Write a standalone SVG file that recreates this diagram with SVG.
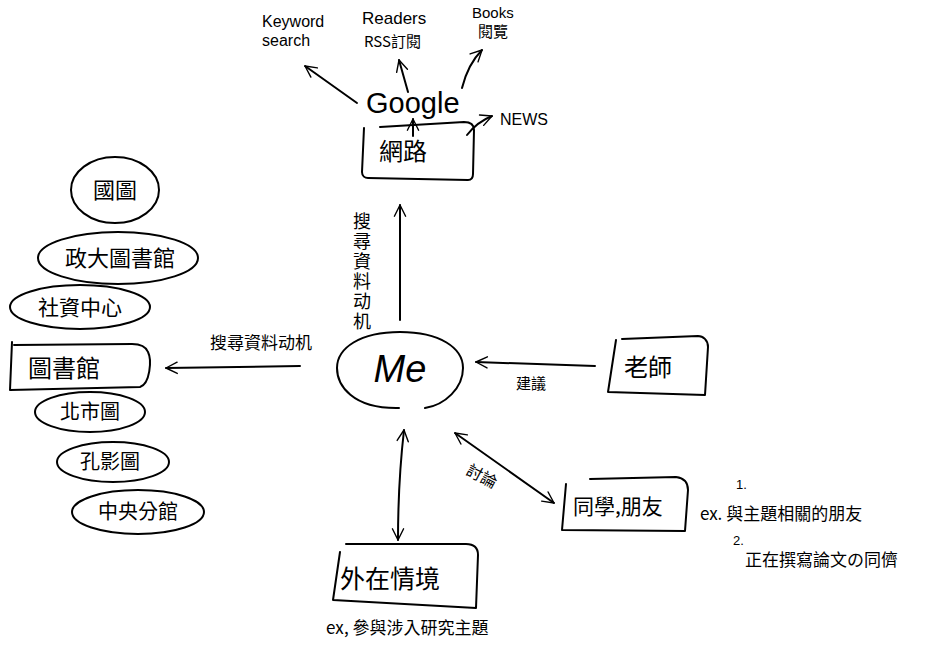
<svg xmlns="http://www.w3.org/2000/svg" width="925" height="645" viewBox="0 0 925 645">
<defs>
<style>
.ln{fill:none;stroke:#000;stroke-width:2;stroke-linecap:round;stroke-linejoin:round}
.t{font-family:"Noto Sans CJK TC","Liberation Sans",sans-serif;fill:#000}
.lat{font-family:"Liberation Sans","Noto Sans CJK TC",sans-serif;fill:#000}
.vt{writing-mode:vertical-rl;letter-spacing:2px}
</style>
<marker id="ah" viewBox="0 0 20 20" refX="18" refY="10" markerWidth="14" markerHeight="14" markerUnits="userSpaceOnUse" orient="auto-start-reverse">
<path d="M2,2 L18,10 L2,18" fill="none" stroke="#000" stroke-width="2" stroke-linecap="round" stroke-linejoin="round"/>
</marker>
</defs>
<rect width="925" height="645" fill="#fff"/>

<g id="connectors">
<path class="ln" d="M357,103 L305,66" marker-end="url(#ah)"/>
<path class="ln" d="M408,92 L399,60" marker-end="url(#ah)"/>
<path class="ln" d="M462,88 C466,72 472,60 482,50" marker-end="url(#ah)"/>
<path class="ln" d="M413,136 L413,119" marker-end="url(#ah)"/>
<path class="ln" d="M467,135 C474,126 482,120 492,116" marker-end="url(#ah)"/>
<path class="ln" d="M400,320 L400,205" marker-end="url(#ah)"/>
<path class="ln" d="M300,366 L166,368" marker-end="url(#ah)"/>
<path class="ln" d="M595,366 L476,362" marker-end="url(#ah)"/>
<path class="ln" d="M554,503 L455,433" marker-start="url(#ah)" marker-end="url(#ah)"/>
<path class="ln" d="M398,540 C398,500 400,465 404,430" marker-start="url(#ah)" marker-end="url(#ah)"/>
</g>

<g id="label-search-up"><text class="t vt" font-size="18" x="362" y="212">搜尋資料动机</text></g>
<g id="label-search-left"><text class="t" font-size="17" x="210" y="349">搜尋資料动机</text></g>
<g id="label-advice"><text class="t" font-size="15" x="516" y="389">建議</text></g>
<g id="label-discuss"><text class="t" font-size="16" x="466" y="482" transform="rotate(28 482 476)">討論</text></g>

<g id="node-google"><text class="lat" font-size="29" x="366" y="113">Google</text></g>
<g id="node-keyword">
<text class="lat" font-size="16" x="262" y="27">Keyword</text>
<text class="lat" font-size="16" x="262" y="46">search</text>
</g>
<g id="node-readers">
<text class="lat" font-size="17" x="362" y="24">Readers</text>
<text class="t" font-size="15" x="364" y="47">RSS訂閱</text>
</g>
<g id="node-books">
<text class="lat" font-size="15" x="472" y="18">Books</text>
<text class="t" font-size="15" x="478" y="37">閱覽</text>
</g>
<g id="node-news"><text class="lat" font-size="16" x="500" y="125">NEWS</text></g>
<g id="node-internet">
<path class="ln" d="M364,128 L362,172 C362,176 365,178 368,178 L468,180 C472,180 473,177 473,174 L474,130 C474,124 470,122 464,122 L380,127"/>
<text class="t" font-size="24" x="379" y="160">網路</text>
</g>

<g id="node-me">
<path class="ln" d="M399,408 C352,409 337,385 337,368 C337,348 360,332 400,332 C440,332 463,348 463,368 C463,388 445,405 425,408"/>
<text class="lat" font-size="38" font-style="italic" x="400" y="382" text-anchor="middle">Me</text>
</g>

<g id="node-library">
<path class="ln" d="M12,342 L10,390 L140,387 C150,384 152,360 148,352 C146,347 140,344 132,344 L14,345"/>
<text class="t" font-size="24" x="28" y="377">圖書館</text>
</g>
<g id="node-nationallib">
<ellipse class="ln" cx="115" cy="190" rx="44" ry="33"/>
<text class="t" font-size="22" x="115" y="198" text-anchor="middle">國圖</text>
</g>
<g id="node-nccu">
<ellipse class="ln" cx="118" cy="258" rx="80" ry="26"/>
<text class="t" font-size="22" x="120" y="266" text-anchor="middle">政大圖書館</text>
</g>
<g id="node-social">
<ellipse class="ln" cx="80" cy="307" rx="70" ry="22"/>
<text class="t" font-size="21" x="80" y="315" text-anchor="middle">社資中心</text>
</g>
<g id="node-taipei">
<ellipse class="ln" cx="90" cy="412" rx="55" ry="20"/>
<text class="t" font-size="20" x="90" y="419" text-anchor="middle">北市圖</text>
</g>
<g id="node-film">
<ellipse class="ln" cx="113" cy="462" rx="56" ry="20"/>
<text class="t" font-size="20" x="110" y="469" text-anchor="middle">孔影圖</text>
</g>
<g id="node-central">
<ellipse class="ln" cx="138" cy="512" rx="66" ry="22"/>
<text class="t" font-size="20" x="138" y="519" text-anchor="middle">中央分館</text>
</g>

<g id="node-teacher">
<path class="ln" d="M616,340 L608,392 L705,395 L708,347 C708,340 703,336 698,336 L622,339"/>
<text class="t" font-size="24" x="624" y="376">老師</text>
</g>

<g id="node-friends">
<path class="ln" d="M566,484 L562,530 L685,531 L688,490 C688,482 684,478 676,477 L590,479"/>
<text class="t" font-size="21" x="573" y="514">同學,朋友</text>
</g>
<g id="note-friends">
<text class="lat" font-size="13" x="736" y="489">1.</text>
<text class="t" font-size="17" x="700" y="520">ex. 與主題相關的朋友</text>
<text class="lat" font-size="13" x="733" y="545">2.</text>
<text class="t" font-size="17" x="745" y="566">正在撰寫論文の同儕</text>
</g>

<g id="node-context">
<path class="ln" d="M340,552 L333,600 L476,608 L478,555 C478,548 474,544 466,544 L346,544"/>
<text class="t" font-size="25" x="340" y="588">外在情境</text>
</g>
<g id="note-context"><text class="t" font-size="17" x="326" y="634">ex, 參與涉入研究主題</text></g>
</svg>
